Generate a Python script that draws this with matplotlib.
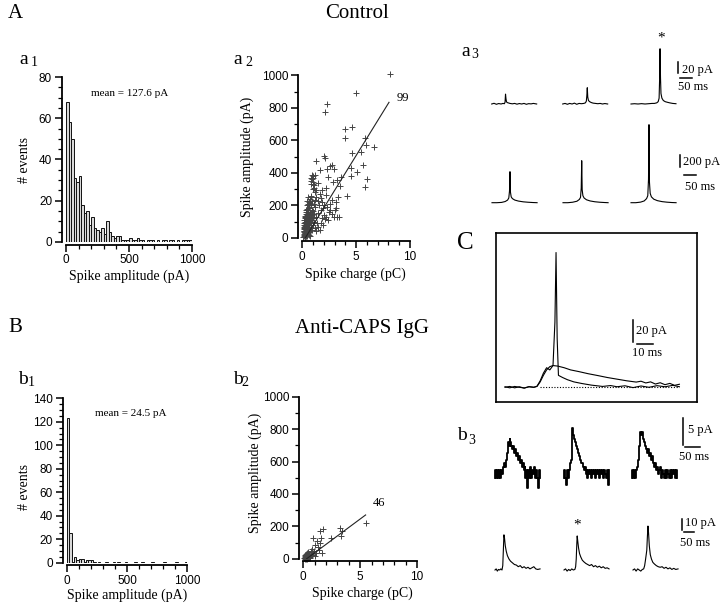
import numpy as np
import matplotlib
matplotlib.use("Agg")
import matplotlib.pyplot as plt
from matplotlib.ticker import MultipleLocator

# ----------------------------------------------------------------------
# data

amp_bins = np.arange(0, 1000, 20)          # pA, 20 pA bins
a1_counts = [68, 58, 50, 31, 29, 32, 18, 14, 15, 8, 12, 7, 6, 5, 7, 4, 10, 5, 3, 2,
             3, 3, 1, 1, 1, 2, 1, 1, 2, 1, 1, 0, 1, 1, 1, 0, 1, 0, 1, 1,
             0, 1, 1, 0, 1, 0, 1, 1, 1, 1]
b1_counts = [123, 25, 1, 5, 2, 3, 3, 1, 2, 2, 2, 1, 0, 1, 0, 0, 1, 0, 0, 1,
             0, 1, 0, 0, 1, 0, 0, 0, 1, 0, 0, 1, 0, 0, 0, 1, 0, 0, 0, 0,
             1, 0, 0, 0, 0, 1, 0, 0, 0, 1]
a1_mean = "mean = 127.6 pA"
b1_mean = "mean = 24.5 pA"

a2_charge = [8.1, 5.0, 2.32, 2.14, 4.0, 4.6, 3.93, 5.79, 5.9, 6.66, 5.48, 4.65, 6.04, 5.79,
             5.63, 4.55, 5.1, 4.49, 4.15, 1.30, 2.01, 2.07, 1.64, 2.32, 2.54, 2.79, 2.94,
             2.38, 3.25, 3.47, 2.85, 3.56, 3.31, 3.09, 3.09, 3.37, 2.94, 2.75, 2.17, 1.86,
             2.23, 1.76, 1.45, 0.99, 0.84, 1.08, 1.30, 1.52, 1.92, 2.07, 1.70, 1.45, 1.14,
             0.84, 0.68, 0.9, 1.0, 1.15, 0.8, 0.95,
             0.15, 0.2, 0.25, 0.3, 0.35, 0.4, 0.45, 0.5, 0.55, 0.6, 0.2, 0.3, 0.4, 0.5,
             0.6, 0.7, 0.8, 0.9, 1.0, 0.35, 0.45, 0.55, 0.65, 0.75, 0.85, 0.25, 0.3, 0.4,
             0.5, 0.6, 0.7, 0.8, 0.9, 1.0, 1.1, 1.2, 0.1, 0.18, 0.28, 0.38, 0.48, 0.58,
             0.68, 0.78, 0.88, 0.98, 1.1, 1.3, 1.4, 1.5, 0.22, 0.32, 0.42, 0.52, 0.62,
             0.72, 0.82, 0.92, 1.05, 1.2, 0.12, 0.16, 0.26, 0.36, 0.46, 0.56, 0.66, 0.76,
             1.3, 1.6, 1.7, 1.8, 1.9, 2.0, 2.2, 2.4, 2.5, 2.6, 0.95, 1.0, 0.9, 0.8, 1.1,
             1.2, 1.3, 1.5, 1.6, 1.8, 2.0, 2.3, 2.6, 2.8, 3.0, 3.2,
             0.2, 0.3, 0.4, 0.5, 0.6, 0.35, 0.45, 0.55, 0.25, 0.65,
             0.15, 0.2, 0.25, 0.3, 0.35, 0.4, 0.45, 0.5, 0.2, 0.3, 0.4, 0.5, 0.6, 0.25,
             0.35, 0.45, 0.55, 0.65, 0.3, 0.4, 0.5, 0.6, 0.7, 0.8, 0.15, 0.22, 0.33, 0.44,
             0.28, 0.38, 0.48, 0.58, 0.68, 0.78, 0.9, 0.18, 0.27, 0.37, 0.47, 0.57]
a2_amp = [1008, 889, 822, 777, 668, 684, 613, 613, 572, 561, 531, 520, 361, 311,
          449, 381, 408, 432, 258, 475, 504, 490, 418, 422, 443, 449, 422,
          377, 357, 320, 346, 377, 254, 223, 182, 131, 131, 234, 305, 295,
          264, 244, 336, 367, 371, 326, 295, 203, 182, 115, 172, 152, 234,
          254, 213, 390, 380, 385, 330, 345,
          10, 25, 15, 40, 20, 55, 30, 70, 45, 90, 60, 80, 100, 120,
          130, 110, 95, 140, 120, 130, 150, 170, 190, 160, 200, 100, 150, 200,
          210, 60, 40, 70, 50, 80, 100, 60, 5, 35, 55, 75, 85, 105,
          145, 125, 175, 165, 150, 130, 90, 70, 120, 175, 230, 250, 220,
          240, 260, 230, 210, 190, 45, 80, 30, 50, 10, 25, 20, 15,
          40, 50, 90, 120, 80, 140, 130, 110, 160, 170, 300, 330, 360, 350, 310,
          280, 250, 230, 270, 220, 200, 190, 210, 150, 170, 130,
          65, 110, 35, 160, 185, 85, 60, 95, 130, 35,
          20, 40, 60, 80, 100, 60, 90, 110, 90, 120, 140, 80, 60, 30,
          50, 70, 60, 40, 10, 20, 30, 120, 90, 150, 55, 75, 95, 115,
          135, 160, 180, 140, 100, 60, 110, 110, 5, 15, 25, 35]
a2_fit_x = [0.27, 8.05]
a2_fit_y = [0, 834]
a2_n = "99"

b2_charge = [5.54, 3.2, 3.43, 3.34, 2.46, 1.73, 1.44, 1.59, 0.85, 1.2, 1.5, 1.64, 1.29,
             1.38, 1.0, 0.7, 0.1, 0.15, 0.2, 0.25, 0.3, 0.35, 0.4, 0.45, 0.5, 0.55,
             0.6, 0.2, 0.3, 0.4, 0.25, 0.35, 0.45, 0.5, 0.7, 0.8, 0.9, 1.0, 1.1,
             0.65, 0.75, 0.85, 0.15, 0.3, 0.4,
             0.15, 0.2, 0.25, 0.3, 0.35, 0.4, 0.2, 0.3, 0.4, 0.5, 0.25, 0.35, 0.45,
             0.18, 0.28, 0.38, 0.22, 0.32, 0.42, 0.6]
b2_amp = [218, 187, 173, 140, 130, 181, 173, 126, 126, 111, 95, 37, 74,
          53, 84, 43, 5, 10, 0, 15, 8, 20, 5, 12, 25, 10,
          18, 30, 35, 28, 3, 0, 40, 2, 30, 20, 45, 15, 35,
          50, 60, 35, 22, 14, 9,
          15, 20, 5, 25, 10, 18, 12, 2, 30, 15, 22, 28, 8,
          0, 10, 4, 25, 14, 20, 5]
b2_fit_x = [0.3, 5.48]
b2_fit_y = [0, 270]
b2_n = "46"

# a3: spontaneous events (ms, pA), top row 20 pA scale, bottom row 200 pA scale
a3_top_t = [[0, 10, 20, 30, 40, 48, 54, 57, 59, 61, 63, 66, 70, 78, 88, 98, 108, 118, 128, 138, 148, 158, 168, 178, 192],
            [0, 10, 20, 30, 40, 50, 60, 70, 80, 90, 97, 101, 103, 105, 107, 110, 115, 122, 130, 140, 150, 160, 170, 180, 192],
            [0, 15, 30, 45, 60, 75, 90, 100, 110, 116, 120, 122, 124, 126, 128, 132, 138, 146, 155, 165, 178, 192]]
a3_top_v = [[0, 1.2, -0.5, 0.8, 0, 1, 0.5, 3, 17, 9, 4, 2.5, 2, 1, 0.3, 1, -0.3, 0.8, 0, 1, -0.5, 0.6, 0.2, 1, 0],
            [0, 1, -0.5, 1, 0, 1.5, -0.5, 1, 0.5, 1, 2, 5, 14, 28, 12, 6, 4, 2.5, 1.5, 1, 0.5, 1, 0, 0.8, 0],
            [0, 0.5, 0, 0.6, 0, 0.5, 1, 1, 2, 4, 10, 40, 95, 45, 18, 10, 6, 4, 3, 2, 1, 0.5]]
a3_bot_t = [[0, 20, 40, 55, 65, 70, 73, 75, 77, 80, 85, 95, 110, 130, 150, 170, 188],
            [0, 20, 40, 58, 68, 73, 76, 78, 80, 83, 88, 98, 113, 133, 153, 173, 188],
            [0, 20, 40, 55, 65, 70, 73, 75, 77, 80, 85, 95, 110, 130, 150, 170, 188]]
a3_bot_v = [[0, 0, 5, 20, 45, 80, 200, 530, 180, 100, 70, 45, 28, 15, 8, 3, 0],
            [0, 0, 8, 25, 55, 90, 250, 718, 220, 120, 80, 50, 30, 16, 8, 3, 0],
            [0, 0, 10, 30, 70, 120, 400, 1334, 350, 160, 100, 60, 35, 18, 9, 3, 0]]

# C: superimposed control spike and slow anti-CAPS event (ms, pA)
c_spike_t = [0, 3, 6, 9, 12, 15, 18, 20, 22, 24, 26, 28, 30, 31.2, 31.9, 32.6, 33.4, 36, 39, 43, 48, 54,
             61, 66, 70, 75, 80, 85, 90, 95, 100, 105, 109]
c_spike_v = [0, 0.8, -0.5, 0.5, -0.8, 0.6, 0, 1, 6, 13, 18, 16, 20, 60, 124, 45, 11, 9, 7, 5, 3.5, 2,
             0.8, 1.6, 0.5, 1.4, -0.3, 1.2, 0, 1.5, 0.5, 1.8, 0.5]
c_slow_t = [0, 3, 6, 9, 12, 15, 18, 20, 22, 24, 26, 28, 30, 33, 37, 41, 46, 52, 58, 64, 70, 76, 82,
            85, 88, 91, 94, 97, 100, 103, 106, 109]
c_slow_v = [0.5, -0.5, 0.8, 0, -0.6, 0.5, 0, 0.8, 5, 11, 16, 19, 20, 19.5, 18, 16, 14.5, 12.5, 10.8,
            9, 7.5, 6, 4.8, 5.6, 4, 5, 3, 4.2, 2.4, 3.6, 1.8, 2.8]
c_onset = 22

# b3 top row: quantised noisy traces, levels of 0.65 pA
b3_quantum = 0.65
b3_top_levels = [
    [-1, 1, -1, 1, -1, 1, -1, 1, 0, 2, 3, 2, 4, 6, 9, 8, 10, 9, 8, 7, 8, 6, 7, 5, 6, 4, 5, 3, 4, 2,
     3, 1, 2, -1, 1, -4, 1, -1, 2, -1, 1, 0, 2, -1, 1, -1, -4, 1, -1],
    [-1, 1, -1, -3, 1, -1, 1, 3, 4, 13, 11, 10, 9, 8, 7, 6, 5, 4, 3, 3, 2, 1, 2, 0, 1, -1, 1, 0, 1,
     -1, 1, 0, 1, -1, 1, 0, 1, -1, 1, 0, 1, -1, 1, 0, -1, 1, -3, 1],
    [-1, 1, -1, 1, -1, 1, 2, 4, 8, 12, 11, 12, 10, 9, 8, 7, 6, 7, 5, 6, 4, 5, 3, 2, 3, 1, 2, 0, 1, 2,
     -1, 1, 0, -1, 1, -1, 1, 0, -1, 1, -1, 1, 0, 1, -1, 1, -1]]
b3_top_len = 150
b3_bot_t = [[0, 6, 12, 18, 24, 30, 36, 40, 43, 46, 49, 53, 58, 64, 72, 80, 90, 100, 110, 120, 130,
             140, 150, 160, 170, 180, 190, 200, 210, 220, 232],
            [0, 8, 16, 24, 32, 40, 48, 56, 60, 63, 66, 68, 71, 75, 80, 86, 94, 102, 112, 122, 132,
             142, 152, 162, 172, 182, 192, 202, 212, 222, 232],
            [0, 8, 16, 24, 32, 40, 48, 55, 60, 65, 68, 71, 74, 77, 80, 84, 89, 95, 102, 110, 120,
             130, 140, 150, 160, 170, 180, 190, 200, 210, 220, 232]]
b3_bot_v = [[0, 1, -1, 0.5, 0, 1, 0, 4, 18, 32, 29, 22, 17, 13, 10, 8, 6.5, 5, 4.5, 3, 4,
             2, 3, 1.5, 2.5, 1, 2, 3, 1, 0.5, 1],
            [0, 1, -1, 0.5, -0.5, 1, 0, 0.5, 3, 10, 24, 31, 26, 20, 15, 12, 9, 7.5, 6, 5, 4,
             5, 3, 4, 2.5, 3.5, 2, 3, 1.5, 2, 1],
            [0, 1, -1, 1, 0, -1, 0.5, 1, 4, 10, 14, 18, 30, 40, 34, 22, 14, 10, 7, 5.5, 4,
             3, 2.5, 3, 1.5, 2.5, 1, 2, 0.5, 1.5, 0.5, 1]]

# scale bars: (amplitude, time)
a3_top_bar = (20, 50)
a3_bot_bar = (200, 50)
c_bar = (20, 10)
b3_top_bar = (5, 50)
b3_bot_bar = (10, 50)

# ----------------------------------------------------------------------

SERIF = "Liberation Serif"
SANS = "Liberation Sans"
W, H = 720, 604

fig = plt.figure(figsize=(W / 100, H / 100), dpi=100)
fig.patch.set_facecolor("white")


def px_axes(left, top, right, bottom):
    return fig.add_axes([left / W, 1 - bottom / H, (right - left) / W, (bottom - top) / H])


def ftext(x, y, s, size=10, ha="center", va="center", family=SERIF, **kw):
    fig.text(x / W, 1 - y / H, s, size=size, ha=ha, va=va, family=family, **kw)


def style_graph(ax, xmaj, xmin, ymaj, ymin):
    for side in ("top", "right"):
        ax.spines[side].set_visible(False)
    ax.spines["left"].set_position(("outward", 3))
    ax.spines["bottom"].set_position(("outward", 2))
    for side in ("left", "bottom"):
        ax.spines[side].set_linewidth(1.3)
    ax.xaxis.set_major_locator(MultipleLocator(xmaj))
    ax.xaxis.set_minor_locator(MultipleLocator(xmin))
    ax.yaxis.set_major_locator(MultipleLocator(ymaj))
    ax.yaxis.set_minor_locator(MultipleLocator(ymin))
    ax.tick_params(which="major", direction="out", length=5, width=1.1, labelsize=8.5, pad=2)
    ax.tick_params(which="minor", direction="out", length=3, width=0.9)
    for lab in ax.get_xticklabels() + ax.get_yticklabels():
        lab.set_family(SANS)
    ax.set_facecolor("none")


def hist_panel(rect, counts, ymax, ymaj, mean_txt, mean_pos):
    ax = px_axes(*rect)
    ax.bar(amp_bins, counts, width=20, align="edge", facecolor="#d9d9d9",
           edgecolor="#111111", linewidth=0.7)
    ax.set_xlim(0, 1000)
    ax.set_ylim(0, ymax)
    style_graph(ax, 500, 100, ymaj, 5)
    ftext(*mean_pos, mean_txt, size=8)
    return ax


def scatter_panel(rect, qx, qy, fit_x, fit_y, n_txt, n_pos):
    ax = px_axes(*rect)
    ax.plot(qx, qy, ls="none", marker="+", ms=5, mew=0.7, color="#444444", clip_on=False)
    ax.plot(fit_x, fit_y, color="#222222", lw=0.8)
    ax.set_xlim(0, 10)
    ax.set_ylim(0, 1000)
    style_graph(ax, 5, 1, 200, 100)
    ftext(*n_pos, n_txt, size=9)
    return ax


def trace_axes(rect, origin, ms_px, pa_px, frame=False):
    left, top, right, bottom = rect
    x0, y0 = origin
    ax = px_axes(*rect)
    ax.set_xlim((left - x0) * ms_px, (right - x0) * ms_px)
    ax.set_ylim((y0 - bottom) * pa_px, (y0 - top) * pa_px)
    ax.set_xticks([])
    ax.set_yticks([])
    for sp in ax.spines.values():
        sp.set_visible(frame)
        sp.set_linewidth(1.2)
    ax.set_facecolor("none")

    def conv(px, py):
        return (px - x0) * ms_px, (y0 - py) * pa_px
    return ax, conv


def scale_bar(ax, conv, vbar_px, hbar_px, bar, lw=1.1):
    amp, dur = bar
    vx, vy = conv(*vbar_px)
    hx, hy = conv(*hbar_px)
    ax.plot([vx, vx], [vy, vy + amp], color="k", lw=lw, clip_on=False)
    ax.plot([hx, hx + dur], [hy, hy], color="k", lw=lw, clip_on=False)


# ---- section headings -------------------------------------------------
ftext(15, 14, "A", size=15)
ftext(357, 14, "Control", size=15)
ftext(15, 328, "B", size=15)
ftext(362, 328, "Anti-CAPS IgG", size=15)

for letter, sub, lpos, spos in [("a", "1", (24, 59), (34, 62)),
                                ("a", "2", (238, 59), (249, 63)),
                                ("a", "3", (466, 52), (475, 55)),
                                ("b", "1", (23, 379), (31, 383)),
                                ("b", "2", (238, 379), (245, 383)),
                                ("b", "3", (462, 435), (472, 441))]:
    ftext(*lpos, letter, size=14)
    ftext(*spos, sub, size=10)
ftext(465, 243, "C", size=18)

# ---- a1 / b1 histograms ----------------------------------------------
hist_panel((66, 77, 192, 242), a1_counts, 80, 20, a1_mean, (130, 94))
ftext(25, 160, "# events", rotation=90)
ftext(129, 276, "Spike amplitude (pA)")

hist_panel((66.7, 398.3, 187.3, 562.7), b1_counts, 140, 20, b1_mean, (131, 414))
ftext(24, 487, "# events", rotation=90)
ftext(127, 595, "Spike amplitude (pA)")

# ---- a2 / b2 scatter --------------------------------------------------
scatter_panel((302.3, 75.3, 410, 238), a2_charge, a2_amp, a2_fit_x, a2_fit_y, a2_n, (403, 98))
ftext(247, 157, "Spike amplitude (pA)", rotation=90)
ftext(355, 274, "Spike charge (pC)")

scatter_panel((303.3, 396.7, 417, 558.7), b2_charge, b2_amp, b2_fit_x, b2_fit_y, b2_n, (379, 503))
ftext(255, 473, "Spike amplitude (pA)", rotation=90)
ftext(362, 593, "Spike charge (pC)")

# ---- a3 traces --------------------------------------------------------
ax, conv = trace_axes((485, 30, 720, 112), (491.7, 104), 4.27, 1.72)
for start, t, v in zip([491.7, 562.7, 631], a3_top_t, a3_top_v):
    t0 = conv(start, 0)[0]
    ax.plot(np.add(t, t0), v, color="k", lw=0.8)
scale_bar(ax, conv, (678, 73.3), (680, 77.7), a3_top_bar)
ftext(682, 70, f"{a3_top_bar[0]} pA", size=9, ha="left")
ftext(693, 87, f"{a3_top_bar[1]} ms", size=9)
ftext(661, 38, "*", size=11)

ax, conv = trace_axes((485, 112, 720, 215), (492, 202.7), 4.17, 17.1)
for start, t, v in zip([492, 563, 631], a3_bot_t, a3_bot_v):
    t0 = conv(start, 0)[0]
    ax.plot(np.add(t, t0), v, color="k", lw=0.8)
scale_bar(ax, conv, (680, 166.7), (684, 175), a3_bot_bar)
ftext(683, 162, f"{a3_bot_bar[0]} pA", size=9, ha="left")
ftext(700, 187, f"{a3_bot_bar[1]} ms", size=9)

# ---- C overlay --------------------------------------------------------
ax, conv = trace_axes((496, 232.7, 697.3, 401.7), (505, 387.3), 0.625, 0.92, frame=True)
ax.plot(c_spike_t, c_spike_v, color="k", lw=0.8)
ax.plot(c_slow_t, c_slow_v, color="k", lw=0.8)
ax.plot([c_onset, c_spike_t[-1]], [0, 0], color="k", lw=0.8, ls=(0, (1, 1.5)))
scale_bar(ax, conv, (632.7, 341.7), (636.7, 344), c_bar)
ftext(636, 331, f"{c_bar[0]} pA", size=9, ha="left")
ftext(647, 353, f"{c_bar[1]} ms", size=9)

# ---- b3 traces --------------------------------------------------------
ax, conv = trace_axes((485, 410, 720, 490), (495, 474), 3.33, 0.185)
for start, lev in zip([495, 564, 632], b3_top_levels):
    t0 = conv(start, 0)[0]
    tt = t0 + np.linspace(0, b3_top_len, len(lev))
    ax.step(tt, np.array(lev) * b3_quantum, where="mid", color="k", lw=1.3)
scale_bar(ax, conv, (683.3, 445), (685, 446.7), b3_top_bar)
ftext(688, 430, f"{b3_top_bar[0]} pA", size=9, ha="left")
ftext(694, 457, f"{b3_top_bar[1]} ms", size=9)

ax, conv = trace_axes((485, 500, 720, 580), (495, 570), 5.15, 0.91)
for start, t, v in zip([495, 564, 633], b3_bot_t, b3_bot_v):
    t0 = conv(start, 0)[0]
    ax.plot(np.add(t, t0), v, color="k", lw=0.8)
scale_bar(ax, conv, (682.3, 530), (684, 531.7), b3_bot_bar)
ftext(685, 523, f"{b3_bot_bar[0]} pA", size=9, ha="left")
ftext(695, 543, f"{b3_bot_bar[1]} ms", size=9)
ftext(577, 525, "*", size=11)

fig.savefig("out.png", dpi=100, facecolor="white")
